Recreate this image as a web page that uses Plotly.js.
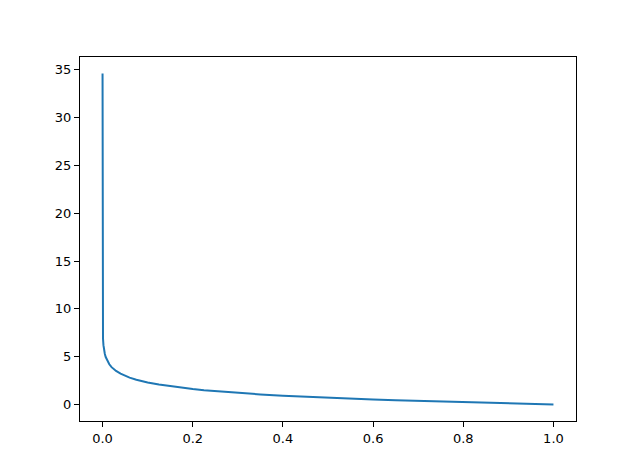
<!DOCTYPE html>
<html>
<head>
<meta charset="utf-8">
<script src="https://cdn.plot.ly/plotly-3.0.1.min.js"></script>
<style>html,body{margin:0;padding:0;background:#fff;}#chart{width:640px;height:473px;}</style>
</head>
<body>
<div id="chart"></div>
<script>
// Values
var xValues = [1e-15, 1e-10, 1e-6, 0.0001, 0.001, 0.002, 0.003, 0.005, 0.007, 0.01, 0.015, 0.02, 0.025, 0.03, 0.04, 0.05, 0.06, 0.075, 0.09, 0.1, 0.125, 0.15, 0.175, 0.2, 0.225, 0.25, 0.275, 0.3, 0.35, 0.4, 0.45, 0.5, 0.55, 0.6, 0.65, 0.7, 0.75, 0.8, 0.85, 0.9, 0.95, 1.0];
var yValues = [34.6, 23.0, 13.8, 9.2, 6.9, 6.2, 5.8, 5.3, 4.96, 4.6, 4.2, 3.9, 3.69, 3.5, 3.22, 3.0, 2.81, 2.59, 2.41, 2.3, 2.08, 1.9, 1.74, 1.61, 1.49, 1.39, 1.29, 1.2, 1.05, 0.92, 0.8, 0.69, 0.6, 0.51, 0.43, 0.36, 0.29, 0.22, 0.16, 0.105, 0.05, 0.0];
var xTicks = [0.0, 0.2, 0.4, 0.6, 0.8, 1.0];
var xTickLabels = ["0.0", "0.2", "0.4", "0.6", "0.8", "1.0"];
var yTicks = [0, 5, 10, 15, 20, 25, 30, 35];

var trace = {
  x: xValues, y: yValues, type: 'scatter', mode: 'lines',
  line: {color: '#1f77b4', width: 2}, hoverinfo: 'none'
};
var axisCommon = {
  showgrid: false, zeroline: false, showline: true, mirror: true,
  linecolor: '#000', linewidth: 1, ticks: 'outside', ticklen: 5, tickwidth: 1,
  tickcolor: '#000', tickfont: {family: 'DejaVu Sans', size: 13, color: '#000'}
};
var layout = {
  width: 640, height: 473,
  margin: {l: 80, r: 64, t: 57, b: 52},
  paper_bgcolor: '#fff', plot_bgcolor: '#fff',
  showlegend: false,
  xaxis: Object.assign({}, axisCommon, {range: [-0.05, 1.05], tickmode: 'array', tickvals: xTicks, ticktext: xTickLabels}),
  yaxis: Object.assign({}, axisCommon, {range: [-1.73, 36.33], tickmode: 'array', tickvals: yTicks})
};
Plotly.newPlot('chart', [trace], layout, {staticPlot: true, displayModeBar: false});
</script>
</body>
</html>
